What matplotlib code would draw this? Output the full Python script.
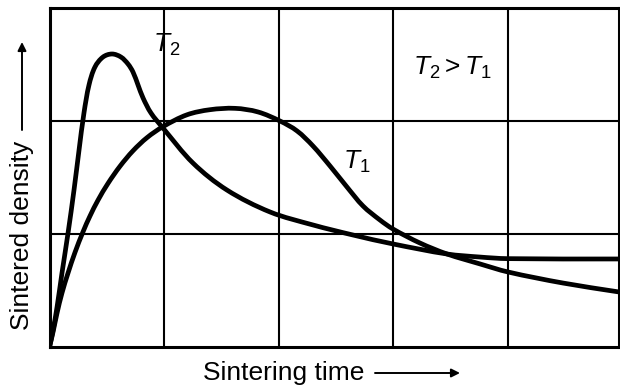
import matplotlib
matplotlib.use("Agg")
import matplotlib.pyplot as plt
import numpy as np
from matplotlib.path import Path
from matplotlib.patches import PathPatch, FancyArrowPatch

plt.rcParams['font.family'] = ['Liberation Sans', 'DejaVu Sans']
plt.rcParams['mathtext.fontset'] = 'custom'
plt.rcParams['mathtext.rm'] = 'Liberation Sans'
plt.rcParams['mathtext.it'] = 'Liberation Sans:italic'

# Data (time and density in grid units)
t2_x = [0, 0.031, 0.066, 0.109, 0.162, 0.214, 0.258, 0.301, 0.345, 0.397,
        0.467, 0.546, 0.624, 0.686, 0.729, 0.773, 0.817, 0.886, 0.991,
        1.253, 1.550, 1.926, 2.301, 2.651, 3.0, 3.472, 3.76, 4.0, 4.97]
t2_y = [0, 0.150, 0.354, 0.655, 1.009, 1.389, 1.743, 2.071, 2.319, 2.478,
        2.566, 2.593, 2.566, 2.504, 2.434, 2.319, 2.204, 2.071, 1.938,
        1.628, 1.389, 1.195, 1.080, 0.991, 0.912, 0.823, 0.796, 0.782, 0.779]

t1_x = [0, 0.031, 0.066, 0.109, 0.162, 0.223, 0.293, 0.354, 0.424, 0.511,
        0.616, 0.729, 0.852, 0.991, 1.201, 1.402, 1.620, 1.821, 2.013,
        2.162, 2.301, 2.450, 2.598, 2.738, 2.886, 3.0, 3.236, 3.472, 3.76,
        4.004, 4.485, 4.974]
t1_y = [0, 0.133, 0.301, 0.478, 0.655, 0.838, 1.020, 1.160, 1.300, 1.448,
        1.600, 1.736, 1.853, 1.950, 2.055, 2.100, 2.112, 2.080, 2.0,
        1.912, 1.779, 1.602, 1.416, 1.248, 1.124, 1.044, 0.920, 0.823, 0.735,
        0.664, 0.566, 0.487]

x_grid = [1, 2, 3, 4]
y_grid = [1, 2]

W, H = 620, 391
fig = plt.figure(figsize=(W / 100, H / 100), dpi=100)
ax = fig.add_axes([49.5 / W, 1 - 347 / H, 569 / W, 339 / H])
ax.set_xlim(0, 569 / 114.5)
ax.set_ylim(0, 3)

for gx in x_grid:
    ax.axvline(gx, color='black', lw=1.5, zorder=1)
for gy in y_grid:
    ax.axhline(gy, color='black', lw=1.5, zorder=1)


def smooth_path(xs, ys):
    """Cubic Bezier path through the given points (tangent-based)."""
    p = np.column_stack([xs, ys]).astype(float)
    n = len(p)
    tang = np.zeros_like(p)
    for i in range(n):
        a = p[max(i - 1, 0)]
        b = p[min(i + 1, n - 1)]
        d = b - a
        tang[i] = d / np.hypot(*d)
    verts = [p[0]]
    codes = [Path.MOVETO]
    for i in range(n - 1):
        L = np.hypot(*(p[i + 1] - p[i]))
        c1 = p[i] + tang[i] * L / 3
        c2 = p[i + 1] - tang[i + 1] * L / 3
        verts += [c1, c2, p[i + 1]]
        codes += [Path.CURVE4] * 3
    return Path(verts, codes)


for xs, ys in [(t2_x, t2_y), (t1_x, t1_y)]:
    ax.add_patch(PathPatch(smooth_path(xs, ys), facecolor='none',
                           edgecolor='black', lw=3.4, joinstyle='round',
                           capstyle='round', zorder=3))

for s in ax.spines.values():
    s.set_linewidth(2.2)
ax.set_xticks([])
ax.set_yticks([])


def fx(px):
    return px / W


def fy(py):
    return 1 - py / H


fs = 19
fig.text(fx(167), fy(45), r'$T_2$', fontsize=fs, ha='center', va='center')
fig.text(fx(452), fy(68), r'$T_2 > T_1$', fontsize=fs, ha='center', va='center')
fig.text(fx(357), fy(162), r'$T_1$', fontsize=fs, ha='center', va='center')

fig.text(fx(284), fy(373), 'Sintering time', fontsize=fs, ha='center', va='center')
fig.text(fx(22), fy(235), 'Sintered density', fontsize=fs, ha='center',
         va='center', rotation=90)

fig.add_artist(FancyArrowPatch(
    (fx(375), fy(373)), (fx(460), fy(373)), transform=fig.transFigure,
    arrowstyle='-|>,head_length=5,head_width=2.5', color='black', lw=1.4,
    shrinkA=0, shrinkB=0))
fig.add_artist(FancyArrowPatch(
    (fx(22), fy(130)), (fx(22), fy(42)), transform=fig.transFigure,
    arrowstyle='-|>,head_length=5,head_width=2.5', color='black', lw=1.4,
    shrinkA=0, shrinkB=0))

fig.savefig('out.png', dpi=100)
